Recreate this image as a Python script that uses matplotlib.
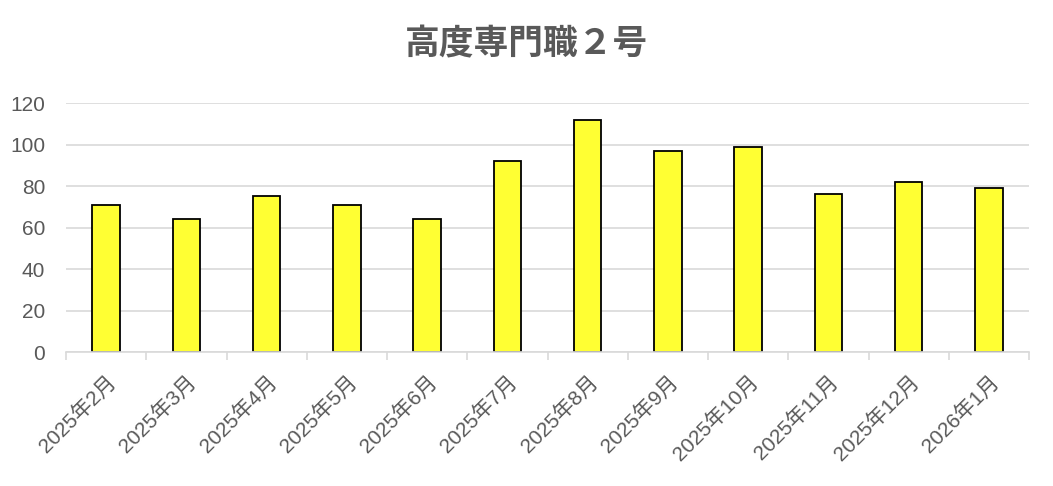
import matplotlib
matplotlib.use("Agg")
import matplotlib.pyplot as plt
import numpy as np

plt.rcParams["font.family"] = ["Liberation Sans", "Noto Sans CJK JP", "DejaVu Sans"]

# データ
months = ["2025年2月", "2025年3月", "2025年4月", "2025年5月", "2025年6月", "2025年7月",
          "2025年8月", "2025年9月", "2025年10月", "2025年11月", "2025年12月", "2026年1月"]
values = [71, 64, 75, 71, 64, 92, 112, 97, 99, 76, 82, 79]
yticks = [0, 20, 40, 60, 80, 100, 120]

text_color = "#595959"
grid_color = "#d9d9d9"

fig = plt.figure(figsize=(10.53, 4.86), dpi=100)
ax = fig.add_axes([66 / 1053, 1 - 352.3 / 486, (1029 - 66) / 1053, (352.3 - 103) / 486])

x = np.arange(len(months))
ax.bar(x, values, width=0.34, color="#ffff33", edgecolor="black", linewidth=1.3, zorder=3)

ax.set_xlim(-0.5, len(months) - 0.5)
ax.set_ylim(0, 120)
ax.set_yticks(yticks)
ax.yaxis.grid(True, color=grid_color, linewidth=1.2, zorder=0)
ax.tick_params(axis="y", length=0, pad=15, labelsize=15, labelcolor=text_color)

# x軸: 区切り目盛り
ax.set_xticks(np.arange(len(months) + 1) - 0.5, minor=False)
ax.set_xticklabels([])
ax.tick_params(axis="x", which="major", length=6, color=grid_color, width=1.2)
ax.set_xticks(x, minor=True)
ax.set_xticklabels(months, minor=True, rotation=45, ha="right", rotation_mode="anchor")
ax.tick_params(axis="x", which="minor", length=0, pad=14, labelsize=15, labelcolor=text_color)

for s in ["top", "right", "left"]:
    ax.spines[s].set_visible(False)
ax.spines["bottom"].set_color(grid_color)
ax.spines["bottom"].set_linewidth(1.2)
ax.spines["bottom"].set_zorder(4)

fig.text(0.5, 1 - 44 / 486, "高度専門職２号", ha="center", va="center",
         fontsize=25, fontweight="bold", color=text_color,
         family=["Noto Sans CJK JP", "DejaVu Sans"])

fig.savefig("out.png", dpi=100)
